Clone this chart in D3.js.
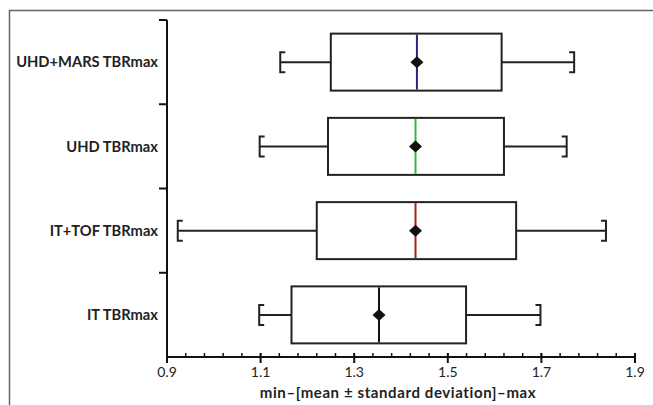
<!DOCTYPE html>
<html>
<head>
<meta charset="utf-8">
<script src="https://cdn.jsdelivr.net/npm/d3@7"></script>
<style>
body { margin: 0; background: #fff; }
text { font-family: Lato, "Open Sans", sans-serif; }
</style>
</head>
<body>
<svg width="653" height="405"></svg>
<script>
var categories = ["UHD+MARS TBRmax", "UHD TBRmax", "IT+TOF TBRmax", "IT TBRmax"];
var minValues = [1.142, 1.098, 0.923, 1.097];
var lowValues = [1.250, 1.244, 1.220, 1.166];
var meanValues = [1.434, 1.431, 1.431, 1.353];
var highValues = [1.615, 1.620, 1.646, 1.539];
var maxValues = [1.770, 1.754, 1.838, 1.698];
var medianColors = ["#26267a", "#3cb43c", "#a42222", "#111111"];
var tickValues = [0.9, 1.1, 1.3, 1.5, 1.7, 1.9];

var svg = d3.select("svg");

// outer frame
svg.append("path")
.attr("d", "M9.5,405 V10.5 H653")
.attr("fill", "none")
.attr("stroke", "#666")
.attr("stroke-width", 1.5);

var plotLeft = 167, plotTop = 20, plotRight = 635, plotBottom = 357;

var xScale = d3.scaleLinear().domain([0.9, 1.9]).range([plotLeft, plotRight]);
var yScale = d3.scaleBand().domain(categories).range([plotTop, plotBottom]);

var data = categories.map(function (c, i) {
    return { name: c, min: minValues[i], lo: lowValues[i], mean: meanValues[i], hi: highValues[i], max: maxValues[i], color: medianColors[i] };
});

// y axis
svg.append("line")
.attr("x1", plotLeft).attr("x2", plotLeft)
.attr("y1", plotTop).attr("y2", plotBottom)
.attr("stroke", "#111").attr("stroke-width", 2);

svg.selectAll(".ytick")
.data(categories)
.enter()
.append("line")
.attr("x1", plotLeft - 8).attr("x2", plotLeft)
.attr("y1", function (d) { return yScale(d); })
.attr("y2", function (d) { return yScale(d); })
.attr("stroke", "#111").attr("stroke-width", 2);

svg.selectAll(".ylabel")
.data(categories)
.enter()
.append("text")
.attr("x", plotLeft - 9)
.attr("y", function (d) { return yScale(d) + yScale.bandwidth() / 2; })
.attr("dy", "0.35em")
.attr("text-anchor", "end")
.attr("font-size", "14.7px")
.attr("font-weight", "bold")
.attr("fill", "#222")
.text(function (d) { return d; });

// x axis
var xAxis = svg.append("g").attr("transform", "translate(0," + plotBottom + ")");
xAxis.append("line")
.attr("x1", plotLeft).attr("x2", plotRight)
.attr("stroke", "#111").attr("stroke-width", 2);

var minorTicks = d3.range(0, 26).map(function (i) { return 0.9 + i * 0.04; });
xAxis.selectAll(".minor")
.data(minorTicks)
.enter()
.append("line")
.attr("x1", function (d) { return xScale(d); })
.attr("x2", function (d) { return xScale(d); })
.attr("y1", -4).attr("y2", 0)
.attr("stroke", "#111").attr("stroke-width", 1.5);

xAxis.selectAll(".major")
.data(tickValues)
.enter()
.append("line")
.attr("x1", function (d) { return xScale(d); })
.attr("x2", function (d) { return xScale(d); })
.attr("y1", -4).attr("y2", 6)
.attr("stroke", "#111").attr("stroke-width", 2);

xAxis.selectAll(".xlabel")
.data(tickValues)
.enter()
.append("text")
.attr("x", function (d) { return xScale(d); })
.attr("y", 20)
.attr("text-anchor", "middle")
.attr("font-size", "14px")
.attr("fill", "#222")
.text(function (d) { return d.toFixed(1); });

svg.append("text")
.attr("x", 398)
.attr("y", 398)
.attr("text-anchor", "middle")
.attr("font-size", "15px")
.attr("font-weight", "bold")
.attr("letter-spacing", "0.6px")
.attr("fill", "#222")
.text("min\u2013[mean \u00b1 standard deviation]\u2013max");

// boxes
var boxH = 57, capH = 20, capW = 5;
var g = svg.selectAll(".box")
.data(data)
.enter()
.append("g")
.attr("transform", function (d) { return "translate(0," + (yScale(d.name) + yScale.bandwidth() / 2) + ")"; });

g.append("line")
.attr("x1", function (d) { return xScale(d.min); })
.attr("x2", function (d) { return xScale(d.lo); })
.attr("stroke", "#222").attr("stroke-width", 2);

g.append("line")
.attr("x1", function (d) { return xScale(d.hi); })
.attr("x2", function (d) { return xScale(d.max); })
.attr("stroke", "#222").attr("stroke-width", 2);

g.append("path")
.attr("d", function (d) {
    var x = xScale(d.min);
    return "M" + (x + capW) + "," + (-capH / 2) + "H" + x + "V" + (capH / 2) + "H" + (x + capW);
})
.attr("fill", "none").attr("stroke", "#222").attr("stroke-width", 2);

g.append("path")
.attr("d", function (d) {
    var x = xScale(d.max);
    return "M" + (x - capW) + "," + (-capH / 2) + "H" + x + "V" + (capH / 2) + "H" + (x - capW);
})
.attr("fill", "none").attr("stroke", "#222").attr("stroke-width", 2);

g.append("rect")
.attr("x", function (d) { return xScale(d.lo); })
.attr("y", -boxH / 2)
.attr("width", function (d) { return xScale(d.hi) - xScale(d.lo); })
.attr("height", boxH)
.attr("fill", "#fff").attr("stroke", "#222").attr("stroke-width", 2);

g.append("line")
.attr("x1", function (d) { return xScale(d.mean); })
.attr("x2", function (d) { return xScale(d.mean); })
.attr("y1", -boxH / 2 + 1).attr("y2", boxH / 2 - 1)
.attr("stroke", function (d) { return d.color; }).attr("stroke-width", 2);

g.append("path")
.attr("d", function (d) {
    var x = xScale(d.mean);
    return "M" + (x - 6.5) + ",0L" + x + ",-6L" + (x + 6.5) + ",0L" + x + ",6Z";
})
.attr("fill", "#111");
</script>
</body>
</html>
